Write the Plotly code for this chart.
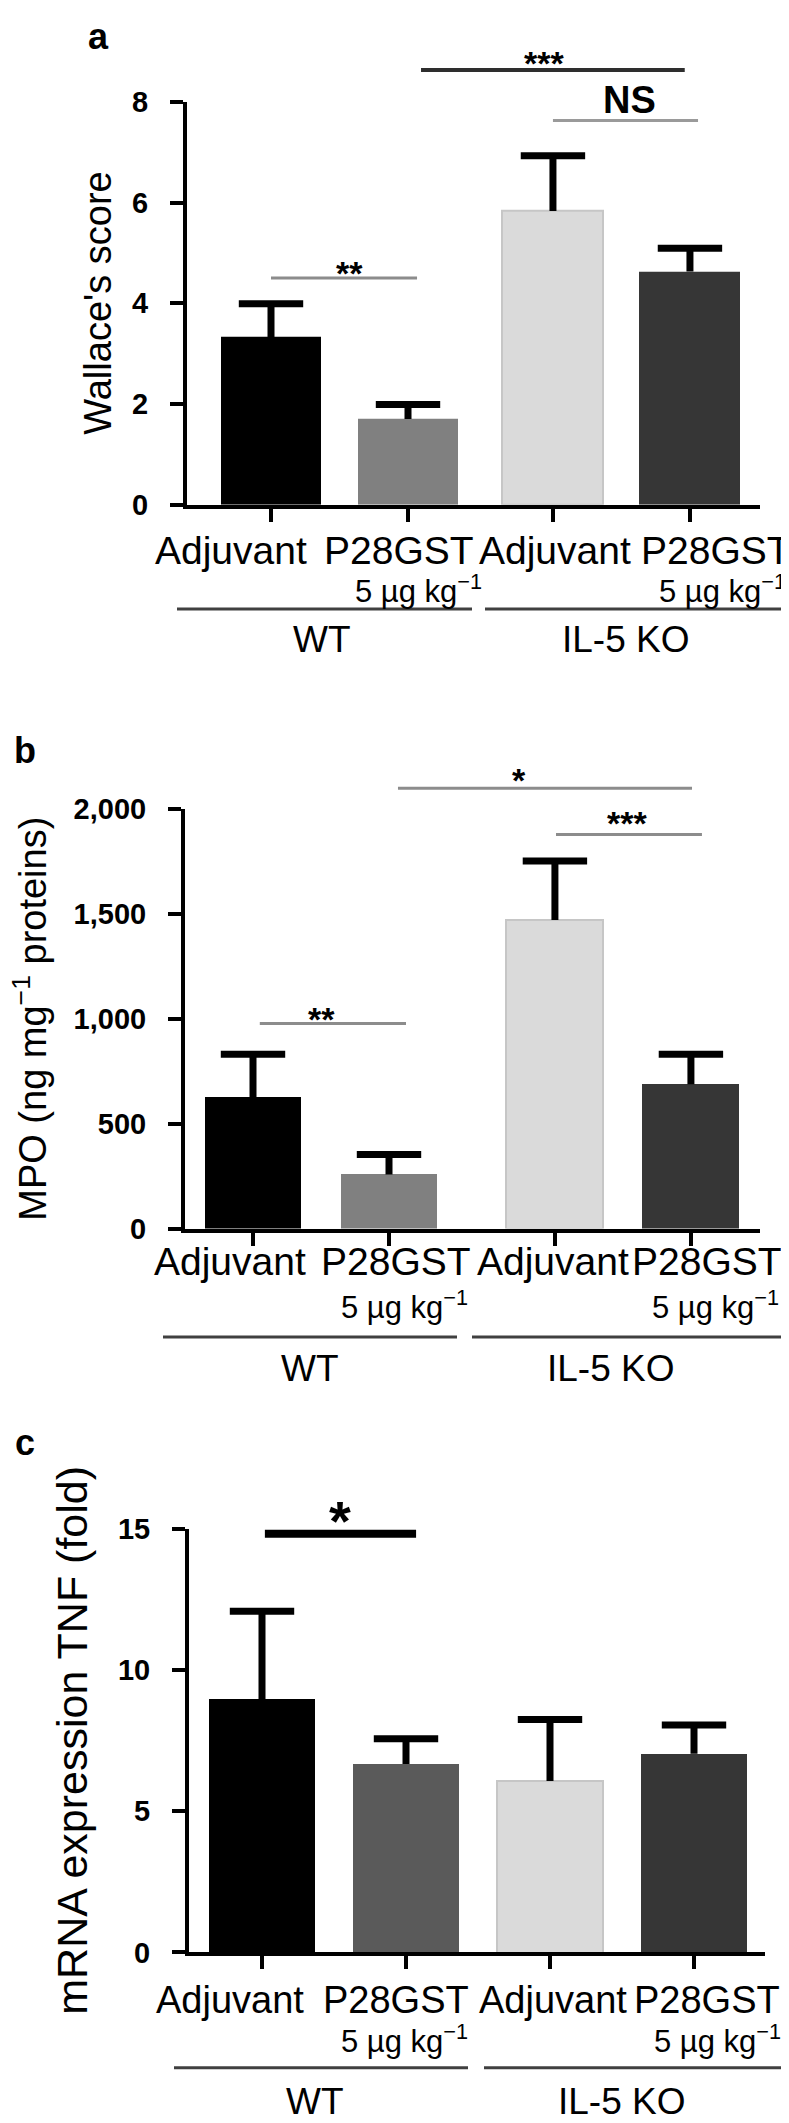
import plotly.graph_objects as go

W, H = 789, 2123
FONT = "Liberation Sans, Arial, Helvetica, sans-serif"

# ---------------- data ----------------
conditions = ["Adjuvant", "P28GST", "Adjuvant", "P28GST"]
dose_text = "5 µg kg<sup>−1</sup>"
group_names = ["WT", "IL-5 KO"]

# a: Wallace's score
a_means = [3.33, 1.70, 5.83, 4.63]
a_err = [0.66, 0.29, 1.10, 0.46]
a_ticks = [0, 2, 4, 6, 8]

# b: MPO (ng mg-1 proteins)
b_means = [625, 258, 1471, 688]
b_err = [206, 95, 281, 143]
b_ticks = [0, 500, 1000, 1500, 2000]

# c: mRNA expression TNF (fold)
c_means = [8.98, 6.68, 6.07, 7.04]
c_err = [3.11, 0.89, 2.18, 1.02]
c_ticks = [0, 5, 10, 15]

# significance marks: (text, x-start, x-end, level in data units)
a_sig = [("**", 0.0, 1.066, 4.50), ("***", 1.095, 3.02, 8.63), ("NS", 2.058, 3.117, 7.63)]
b_sig = [("**", 0.05, 1.125, 977), ("*", 1.066, 3.228, 2099), ("***", 2.228, 3.301, 1878)]
c_sig = [("*", 0.02, 1.07, 14.83)]

# ---------------- layout geometry (pixels) ----------------
panels = [
    dict(letter="a", letter_xy=(90, 12.5), title="Wallace's score", title_xy=(90.5, 283.5), title_size=38,
         means=a_means, errs=a_err, ticks=a_ticks, tickformat="", ymax=8,
         colors=["#000000", "#808080", "#dadada", "#363636"],
         edges=["#000000", "#808080", "#c6c6c6", "#363636"],
         pos=[0, 1, 2.058, 3.058], bw=0.737, unit=137, c0=263,
         axis_px=(179, 752), y_px=(79, 488),
         label_y=534.5, label_off=[-40, -9, 2, 26], label_size=39,
         dose_y=574, dose_right=[476, 780],
         gline_y=594, glines=[(169, 464), (477, 789)], gtext_y=625, gtext_x=[314, 618],
         sig=a_sig,
         sig_style=[("#8c8c8c", 3, 34, 0.57, 245), ("#2e2e2e", 4, 34, 1.99, 32.5), ("#9a9a9a", 3, 38, 2.62, None)],
         ns_center=77),
    dict(letter="b", letter_xy=(17, 737.5), title="MPO (ng mg<sup>−1</sup> proteins)", title_xy=(22, 1010), title_size=38,
         means=b_means, errs=b_err, ticks=b_ticks, tickformat=",", ymax=2000,
         colors=["#000000", "#808080", "#dadada", "#363636"],
         edges=["#000000", "#808080", "#c6c6c6", "#363636"],
         pos=[0, 1, 2.22, 3.22], bw=0.713, unit=136, c0=245,
         axis_px=(177, 752), y_px=(797, 1223),
         label_y=1256, label_off=[-23, 7, -2, 16], label_size=39,
         dose_y=1301, dose_right=[462, 773],
         gline_y=1333, glines=[(155, 449), (464, 773)], gtext_y=1365, gtext_x=[302, 603],
         sig=b_sig,
         sig_style=[("#8c8c8c", 3, 34, 0.5, 1002.5), ("#8c8c8c", 3, 34, 1.956, 760.5), ("#8c8c8c", 3, 34, 2.75, 803.5)],
         ns_center=None),
    dict(letter="c", letter_xy=(17, 1440.5), title="mRNA expression TNF (fold)", title_xy=(64, 1743), title_size=43,
         means=c_means, errs=c_err, ticks=c_ticks, tickformat="", ymax=15,
         colors=["#000000", "#5a5a5a", "#dadada", "#363636"],
         edges=["#000000", "#5a5a5a", "#c6c6c6", "#363636"],
         pos=[0, 1, 2, 3], bw=0.736, unit=144, c0=254,
         axis_px=(181, 757), y_px=(1528, 1958),
         label_y=2006.5, label_off=[-32, -10, 3, 13], label_size=38,
         dose_y=2046, dose_right=[462, 775],
         gline_y=2075, glines=[(166, 460), (476, 789)], gtext_y=2109, gtext_x=[307, 614],
         sig=c_sig,
         sig_style=[("#000000", 8, 56, 0.54, 1507)],
         ns_center=None),
]


def fx(px):
    return px / W


def fy(py):
    return 1 - py / H


fig = go.Figure()
shapes, annotations = [], []
layout_axes = {}

for i, p in enumerate(panels, start=1):
    xa = "x" if i == 1 else f"x{i}"
    ya = "y" if i == 1 else f"y{i}"
    xkey = "xaxis" if i == 1 else f"xaxis{i}"
    ykey = "yaxis" if i == 1 else f"yaxis{i}"
    x0px, x1px = p["axis_px"]
    top, zero = p["y_px"]
    unit, c0 = p["unit"], p["c0"]
    xr = [(x0px - c0) / unit, (x1px - c0) / unit]

    def vy(v, top=top, zero=zero, ymax=p["ymax"]):
        return fy(zero - v / ymax * (zero - top))

    # bars with one-sided (upper) error stems
    fig.add_trace(go.Bar(
        x=p["pos"], y=p["means"], width=p["bw"],
        marker=dict(color=p["colors"], line=dict(color=p["edges"], width=[0, 0, 2, 0])),
        error_y=dict(type="data", array=p["errs"], arrayminus=[0] * 4, symmetric=False,
                     color="black", thickness=7, width=0),
        xaxis=xa, yaxis=ya, showlegend=False, hoverinfo="skip",
    ))
    # error-bar caps
    fig.add_trace(go.Scatter(
        x=p["pos"], y=[m + e for m, e in zip(p["means"], p["errs"])],
        mode="markers", marker=dict(symbol="line-ew", size=46, color="black",
                                    line=dict(width=7, color="black")),
        xaxis=xa, yaxis=ya, showlegend=False, hoverinfo="skip", cliponaxis=False,
    ))

    layout_axes[xkey] = dict(
        domain=[fx(x0px), fx(x1px)], range=xr, anchor=ya,
        showline=True, linewidth=4, linecolor="black",
        ticks="outside", ticklen=13, tickwidth=4, tickcolor="black",
        tickmode="array", tickvals=p["pos"], showticklabels=False,
        showgrid=False, zeroline=False, fixedrange=True,
    )
    layout_axes[ykey] = dict(
        domain=[fy(zero), fy(top)], range=[0, p["ymax"]], anchor=xa,
        showline=True, linewidth=4, linecolor="black",
        ticks="outside", ticklen=13, tickwidth=4, tickcolor="black",
        tickmode="array", tickvals=p["ticks"], tickformat=p["tickformat"],
        tickfont=dict(family=FONT, size=29, color="black", weight="bold"),
        ticklabelstandoff=16,
        showgrid=False, zeroline=False, fixedrange=True,
    )

    # panel letter
    lx, ly = p["letter_xy"]
    annotations.append(dict(text=p["letter"], x=fx(lx), y=fy(ly), xref="paper", yref="paper",
                            xanchor="center", yanchor="middle", showarrow=False,
                            font=dict(family=FONT, size=36, color="black", weight="bold")))
    # y title
    tx, ty = p["title_xy"]
    annotations.append(dict(text=p["title"], x=fx(tx), y=fy(ty), xref="paper", yref="paper",
                            xanchor="center", yanchor="middle", textangle=-90, showarrow=False,
                            font=dict(family=FONT, size=p["title_size"], color="black")))
    # condition labels
    for j, cond in enumerate(conditions):
        annotations.append(dict(text=cond, x=p["pos"][j], xref=xa, xshift=p["label_off"][j],
                                y=fy(p["label_y"]), yref="paper", xanchor="center", yanchor="middle",
                                showarrow=False, font=dict(family=FONT, size=p["label_size"], color="black")))
    # dose labels (under P28GST)
    for k, j in enumerate([1, 3]):
        centre_px = c0 + p["pos"][j] * unit
        annotations.append(dict(text=dose_text, x=p["pos"][j], xref=xa,
                                xshift=p["dose_right"][k] - centre_px,
                                y=fy(p["dose_y"]), yref="paper", xanchor="right", yanchor="middle",
                                showarrow=False, font=dict(family=FONT, size=31, color="black")))
    # group underlines and names
    for k, (gx0, gx1) in enumerate(p["glines"]):
        shapes.append(dict(type="line", xref="paper", yref="paper", x0=fx(gx0), x1=fx(gx1),
                           y0=fy(p["gline_y"]), y1=fy(p["gline_y"]),
                           line=dict(color="#404040", width=3)))
        annotations.append(dict(text=group_names[k], x=fx(p["gtext_x"][k]), y=fy(p["gtext_y"]),
                                xref="paper", yref="paper", xanchor="center", yanchor="middle",
                                showarrow=False, font=dict(family=FONT, size=37, color="black")))
    # significance
    for (txt, sx0, sx1, lvl), (col, lw, fsize, tx_data, star_c) in zip(p["sig"], p["sig_style"]):
        shapes.append(dict(type="line", xref=xa, yref="paper", x0=sx0, x1=sx1,
                           y0=vy(lvl), y1=vy(lvl), line=dict(color=col, width=lw)))
        if txt == "NS":
            cy = p["ns_center"]
        else:
            cy = star_c + 0.22 * fsize
        annotations.append(dict(text=txt, x=tx_data, xref=xa, y=fy(cy), yref="paper",
                                xanchor="center", yanchor="middle", showarrow=False,
                                font=dict(family=FONT, size=fsize, color="black", weight="bold")))

fig.update_layout(
    width=W, height=H, autosize=False,
    margin=dict(l=0, r=0, t=0, b=0),
    paper_bgcolor="white", plot_bgcolor="white",
    shapes=shapes, annotations=annotations,
    bargap=0, **layout_axes,
)

fig.write_html("out.html")
